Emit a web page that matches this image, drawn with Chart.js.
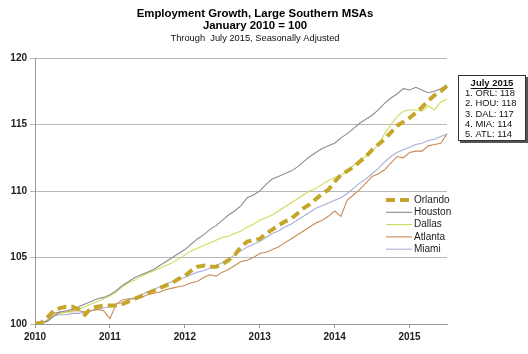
<!DOCTYPE html>
<html>
<head>
<meta charset="utf-8">
<script src="https://cdn.jsdelivr.net/npm/chart.js@4.4.1/dist/chart.umd.min.js"></script>
<style>
  html, body { margin: 0; padding: 0; background: #fff; }
  #wrap { width: 528px; height: 354px; }
</style>
</head>
<body>
<div id="wrap"><canvas id="myChart" width="528" height="354"></canvas></div>
<script>
// data, Jan 2010 .. Jul 2015 (index, Jan 2010 = 100)
var years = ['2010', '2011', '2012', '2013', '2014', '2015']
var monthNames = ['Jan','Feb','Mar','Apr','May','Jun','Jul','Aug','Sep','Oct','Nov','Dec']
var seriesNames = ['Orlando', 'Houston', 'Dallas', 'Atlanta', 'Miami']

var orlando = [100.0, 100.1, 100.5, 101.0, 101.2, 101.3, 101.3, 101.1, 100.7, 101.2, 101.3, 101.4,
  101.4, 101.4, 101.5, 101.7, 101.9, 102.1, 102.3, 102.5, 102.7, 102.9, 103.1, 103.4,
  103.6, 104.0, 104.3, 104.4, 104.3, 104.3, 104.5, 104.8, 105.2, 105.8, 106.2, 106.3,
  106.4, 106.8, 107.1, 107.4, 107.7, 107.9, 108.3, 108.7, 109.0, 109.4, 109.8, 110.1,
  110.7, 111.2, 111.5, 111.8, 112.2, 112.6, 113.1, 113.5, 113.9, 114.4, 114.9, 115.2,
  115.5, 115.9, 116.3, 116.8, 117.2, 117.5, 117.9]
var houston = [100.0, 100.1, 100.2, 100.6, 100.9, 101.0, 101.1, 101.3, 101.5, 101.7, 101.9, 102.0,
  102.2, 102.5, 102.9, 103.2, 103.5, 103.7, 103.9, 104.1, 104.4, 104.7, 105.0, 105.3,
  105.6, 106.0, 106.4, 106.7, 107.1, 107.4, 107.8, 108.2, 108.5, 108.9, 109.5, 109.7,
  110.0, 110.5, 110.9, 111.1, 111.3, 111.5, 111.8, 112.2, 112.6, 112.9, 113.2, 113.4,
  113.6, 114.0, 114.3, 114.7, 115.1, 115.4, 115.7, 116.1, 116.6, 117.0, 117.3, 117.7,
  117.6, 117.8, 117.6, 117.4, 117.5, 117.7, 118.0]
var dallas = [100.0, 100.0, 100.2, 100.6, 100.8, 100.9, 100.9, 101.1, 101.3, 101.5, 101.7, 101.9,
  102.1, 102.4, 102.8, 103.1, 103.3, 103.6, 103.8, 104.0, 104.2, 104.4, 104.6, 104.9,
  105.2, 105.5, 105.7, 105.9, 106.1, 106.3, 106.5, 106.6, 106.8, 107.0, 107.3, 107.5,
  107.8, 108.0, 108.2, 108.5, 108.8, 109.1, 109.4, 109.7, 110.0, 110.2, 110.5, 110.8,
  111.0, 111.2, 111.5, 111.9, 112.3, 112.6, 113.0, 113.5, 114.3, 115.0, 115.6, 116.0,
  116.1, 116.1, 116.0, 116.4, 116.1, 116.7, 116.9]
var atlanta = [100.0, 100.0, 100.3, 100.8, 100.9, 100.9, 101.0, 101.0, 100.9, 101.0, 101.1, 101.0,
  100.4, 101.5, 101.8, 101.9, 101.9, 102.0, 102.2, 102.3, 102.4, 102.6, 102.7, 102.8,
  102.9, 103.1, 103.2, 103.5, 103.7, 103.6, 103.9, 104.1, 104.4, 104.7, 104.8, 105.0,
  105.3, 105.4, 105.6, 105.8, 106.1, 106.4, 106.7, 107.0, 107.3, 107.6, 107.8, 108.1,
  108.5, 108.1, 109.3, 109.7, 110.1, 110.6, 111.1, 111.3, 111.6, 112.1, 112.6, 112.5,
  112.9, 113.0, 113.0, 113.4, 113.5, 113.6, 114.3]
var miami = [100.0, 100.0, 100.2, 100.6, 100.7, 100.7, 100.8, 100.8, 100.9, 101.0, 101.1, 101.2,
  101.3, 101.5, 101.6, 101.8, 102.0, 102.2, 102.4, 102.6, 102.8, 103.0, 103.2, 103.4,
  103.5, 103.7, 103.9, 104.0, 104.2, 104.4, 104.6, 104.9, 105.2, 105.5, 105.8, 106.0,
  106.2, 106.5, 106.8, 107.0, 107.3, 107.5, 107.8, 108.1, 108.4, 108.7, 108.9, 109.1,
  109.3, 109.5, 109.8, 110.2, 110.6, 110.9, 111.3, 111.7, 112.2, 112.6, 112.9, 113.1,
  113.3, 113.5, 113.6, 113.8, 113.9, 114.1, 114.3]

var boxTitle = 'July 2015'
var boxLines = ['1. ORL: 118', '2. HOU: 118', '3. DAL: 117', '4. MIA: 114', '5. ATL: 114']

var colors = ['#c6a62a', '#8e8e8e', '#cfdc5c', '#c98a55', '#a9acd9']
var FONT = 'Arial, "Liberation Sans", sans-serif'

// one label per month
var labels = []
years.forEach(function (y) {
  monthNames.forEach(function (m) { labels.push(m + ' ' + y) })
})
labels = labels.slice(0, orlando.length)

var allSeries = [orlando, houston, dallas, atlanta, miami]
var datasets = seriesNames.map(function (name, i) {
  return {
    label: name,
    data: allSeries[i],
    borderColor: colors[i],
    borderWidth: i === 0 ? 4 : 1.1,
    borderDash: i === 0 ? [9, 5] : [],
    pointRadius: 0,
    tension: 0,
    fill: false
  }
})

// legend drawn inside the plot + ranking box on the right
var insideLegend = {
  id: 'insideLegend',
  afterDraw: function (chart) {
    var c = chart.ctx
    c.save()
    c.font = '10px ' + FONT
    c.textBaseline = 'middle'
    chart.data.datasets.forEach(function (ds, i) {
      var y = 200 + i * 12.3
      c.strokeStyle = ds.borderColor
      c.lineWidth = ds.borderWidth
      c.setLineDash(ds.borderDash)
      c.beginPath()
      c.moveTo(386, y)
      c.lineTo(412, y)
      c.stroke()
      c.setLineDash([])
      c.fillStyle = '#222'
      c.fillText(ds.label, 414, y)
    })

    var bx = 458, by = 75, bw = 68, bh = 66
    c.fillStyle = '#555'
    c.fillRect(bx + 2, by + 2, bw, bh)
    c.fillStyle = '#fff'
    c.fillRect(bx, by, bw, bh)
    c.strokeStyle = '#333'
    c.lineWidth = 1
    c.strokeRect(bx + 0.5, by + 0.5, bw - 1, bh - 1)
    c.fillStyle = '#111'
    c.font = 'bold 9.5px ' + FONT
    c.textAlign = 'center'
    c.fillText(boxTitle, bx + bw / 2, by + 8)
    var tw = c.measureText(boxTitle).width
    c.fillRect(bx + bw / 2 - tw / 2, by + 13, tw, 1)
    c.font = '9.4px ' + FONT
    c.textAlign = 'left'
    boxLines.forEach(function (t, i) {
      c.fillText(t, bx + 7, by + 18.5 + i * 10.3)
    })
    c.restore()
  }
}

var ctx = document.getElementById('myChart')
var myChart = new Chart(ctx, {
  type: 'line',
  data: { labels: labels, datasets: datasets },
  plugins: [insideLegend],
  options: {
    responsive: false,
    animation: false,
    layout: { padding: { left: 0, right: 18, top: 0, bottom: 0 } },
    plugins: {
      legend: { display: false },
      tooltip: { enabled: false },
      title: {
        display: true,
        text: ['Employment Growth, Large Southern MSAs', 'January 2010 = 100'],
        color: '#000',
        font: { family: FONT, size: 11.4, weight: 'bold', lineHeight: 1.05 },
        padding: { top: 8, bottom: 0 }
      },
      subtitle: {
        display: true,
        text: 'Through  July 2015, Seasonally Adjusted',
        color: '#111',
        font: { family: FONT, size: 9.3, lineHeight: 1.2 },
        padding: { top: 1, bottom: 14 }
      }
    },
    scales: {
      x: {
        type: 'category',
        offset: false,
        grid: { drawOnChartArea: false, color: '#999', tickLength: 4 },
        border: { color: '#999' },
        ticks: {
          autoSkip: false,
          maxRotation: 0,
          color: '#222',
          padding: 3,
          font: { family: FONT, size: 10, weight: 'bold' },
          callback: function (v, i) {
            return i % 12 === 0 ? years[i / 12] : null
          }
        },
        afterFit: function (s) { s.height = 30 }
      },
      y: {
        min: 100,
        max: 120,
        grid: { color: '#b8b8b8', tickLength: 5 },
        border: { color: '#999' },
        ticks: {
          stepSize: 5,
          color: '#222',
          padding: 3,
          font: { family: FONT, size: 10, weight: 'bold' }
        },
        afterFit: function (s) { s.width = 35 }
      },
      // empty right axis only reserves room for the ranking box
      yRight: {
        position: 'right',
        grid: { display: false },
        border: { display: false },
        ticks: { display: false },
        afterFit: function (s) { s.width = 63 }
      }
    }
  }
})
</script>
</body>
</html>
